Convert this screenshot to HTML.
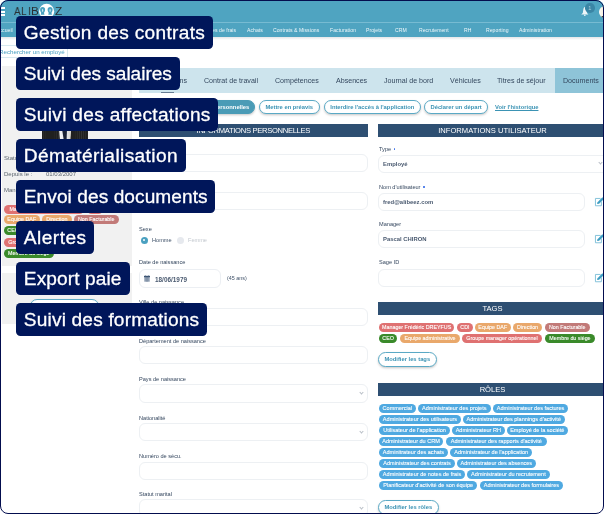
<!DOCTYPE html>
<html><head><meta charset="utf-8">
<style>
*{box-sizing:border-box;margin:0;padding:0}
html,body{width:604px;height:514px;overflow:hidden;background:#fff}
.a,.nav,.lt,.tab,.btn,.sh,.lb,.val,.tg,.rl,.co{will-change:transform}
body{position:relative;font-family:"Liberation Sans",Arial,sans-serif;color:#3d4f66}
.a{position:absolute;white-space:nowrap}
.lg{top:4.1px;font-size:11.7px;line-height:14px;color:#2a3034;transform:scaleX(0.86);transform-origin:0 0}
/* header */
#hdr{position:absolute;left:0;top:0;width:604px;height:37px;background:#4fa4c1}
#hdr .ln{position:absolute;left:0;top:22px;width:604px;height:1px;background:#77bbd2}
#shadow{position:absolute;left:0;top:37px;width:604px;height:3px;background:linear-gradient(#e4e6e8,#fff)}
.nav{position:absolute;top:26.9px;font-size:5.1px;color:#eef7fa;letter-spacing:0.05px;white-space:nowrap}
/* left panel */
.gp{position:absolute;background:#f1f1f1}
.lt{position:absolute;font-size:6px;color:#5d6670;white-space:nowrap}
/* tabs */
#tabs{position:absolute;left:138.7px;top:68px;width:470px;height:24.8px;background:#cde4ed}
.tab{position:absolute;top:76.6px;font-size:7.1px;color:#34485f;white-space:nowrap}
/* buttons */
.btn{position:absolute;top:100.2px;height:14.3px;border-radius:8px;border:1px solid #5aa9c5;background:#fff;color:#3b93b4;font-weight:700;font-size:5.8px;line-height:12.3px;text-align:center;white-space:nowrap;box-shadow:0 1.2px 2.2px rgba(0,0,0,.2)}
/* section headers */
.sh{position:absolute;height:12.5px;background:#2e4f72;color:#fff;font-size:7.6px;line-height:12.5px;padding-top:0.8px;text-align:center;white-space:nowrap}
/* labels */
.lb{position:absolute;font-size:5.6px;color:#34465e;white-space:nowrap}
.st{display:inline-block;width:1.5px;height:1.5px;border-radius:50%;background:#3b6fe8;margin-left:2.6px;vertical-align:1.2px}
.in{position:absolute;height:18.2px;border:1px solid #edf0f3;border-radius:6px;background:#fff}
.val{position:absolute;font-size:5.9px;font-weight:700;color:#4a5a70;white-space:nowrap}
.chev{position:absolute;width:3px;height:3px;border-right:0.6px solid #b8bec6;border-bottom:0.6px solid #b8bec6;transform:rotate(45deg)}
/* tags */
.tg{position:absolute;height:8.8px;border-radius:5px;color:#fff;font-size:5.35px;-webkit-text-stroke:0.1px #fff;line-height:8.8px;text-align:center;white-space:nowrap}
.r{background:#df7171}.o{background:#e9a86b}.b{background:#c27a78}.g{background:#3a8a2a}
.rl{position:absolute;height:8.8px;border-radius:5px;background:#4fa9e1;color:#fff;font-size:5.55px;-webkit-text-stroke:0.1px #fff;line-height:8.8px;text-align:center;white-space:nowrap}
/* callouts */
.co{position:absolute;left:16px;height:32.6px;background:#00165a;border-radius:4.5px;color:#fff;font-size:19.1px;line-height:32.6px;padding-left:7.8px;padding-top:0.9px;-webkit-text-stroke:0.3px #fff;white-space:nowrap}
#frame{position:absolute;left:0;top:0;width:604px;height:514px;border:1px solid #030d4e;border-radius:8px;box-shadow:0 0 0 12px #fff;pointer-events:none}
</style></head><body>

<!-- HEADER -->
<div id="hdr"><div class="ln"></div></div>
<div id="shadow"></div>
<!-- hamburger -->
<div class="a" style="left:1.1px;top:7.3px;width:3.9px;height:1.6px;background:#fff"></div>
<div class="a" style="left:1.1px;top:10.55px;width:3.9px;height:1.6px;background:#fff"></div>
<div class="a" style="left:1.1px;top:13.8px;width:3.9px;height:1.6px;background:#fff"></div>
<!-- logo -->
<div class="a lg" style="left:13.9px">A</div>
<div class="a lg" style="left:21.4px">L</div>
<div class="a lg" style="left:27.8px">I</div>
<div class="a lg" style="left:31.4px;transform:scaleX(0.95)">B</div>
<div class="a lg" style="left:54.7px;transform:scaleX(1.02)">Z</div>
<svg class="a" style="left:37px;top:2px" width="20" height="16" viewBox="37 2 20 16"><circle cx="46.6" cy="11.4" r="7.6" fill="#fff"/>
<path transform="translate(40.1 7)" d="M0,2.8 A2.5,2.8 0 0 1 5,2.8 C5,4.4 4.1,5.2 3.9,5.9 L4.4,7.7 L0.6,7.7 L1.1,5.9 C0.9,5.2 0,4.4 0,2.8 Z" fill="#4aa2c1"/><ellipse cx="42.6" cy="10.3" rx="0.6" ry="1.6" fill="#cfeaf3"/>
<path transform="translate(47.6 7)" d="M0,2.8 A2.5,2.8 0 0 1 5,2.8 C5,4.4 4.1,5.2 3.9,5.9 L4.4,7.7 L0.6,7.7 L1.1,5.9 C0.9,5.2 0,4.4 0,2.8 Z" fill="#4aa2c1"/><ellipse cx="50.1" cy="10.3" rx="0.6" ry="1.6" fill="#cfeaf3"/></svg>
<!-- bell + badge -->
<svg class="a" style="left:581px;top:7px" width="8" height="10" viewBox="0 0 8 10"><path d="M3.9 0 C3.2 0 2.5 1.2 2.2 3.2 L1.8 5.9 L0.2 7.5 L7.4 7.5 L6 5.9 L5.7 3.2 C5.4 1.2 4.6 0 3.9 0 Z" fill="#eef5f8"/><ellipse cx="3.8" cy="8.3" rx="0.9" ry="0.8" fill="#eef5f8"/></svg>
<div class="a" style="left:585px;top:3.1px;width:9.6px;height:9.6px;border-radius:50%;background:#3a85a5;color:#a8cfdd;font-size:5.6px;line-height:10px;text-align:center">1</div>
<div class="a" style="left:598.7px;top:5.6px;width:12px;height:12.2px;border-radius:50%;overflow:hidden;background:linear-gradient(90deg,#fdfcf8 0,#f6f1e2 30%,#efe4c6 45%)"><div style="position:absolute;left:2px;top:9.6px;width:4px;height:3px;border-radius:50%;background:#2e2a27"></div></div>

<!-- NAV -->
<div class="nav" style="left:-4.4px">Accueil</div>
<div class="nav" style="left:203.8px">Notes de frais</div>
<div class="nav" style="left:247px">Achats</div>
<div class="nav" style="left:273px">Contrats &amp; Missions</div>
<div class="nav" style="left:329.8px">Facturation</div>
<div class="nav" style="left:366px">Projets</div>
<div class="nav" style="left:395.3px">CRM</div>
<div class="nav" style="left:419px">Recrutement</div>
<div class="nav" style="left:463.5px">RH</div>
<div class="nav" style="left:486px">Reporting</div>
<div class="nav" style="left:519px">Administration</div>

<!-- SEARCH -->
<div class="a" style="left:-4px;top:45px;width:72px;height:12.6px;border:1px solid #d6e8ef;border-left:none"></div>
<div class="a" style="left:-1.5px;top:48.1px;font-size:6.2px;color:#4aa0c2">Rechercher un employé</div>

<!-- LEFT PANEL -->
<div class="gp" style="left:2.1px;top:66px;width:129.9px;height:199.9px"></div>
<div class="gp" style="left:2.1px;top:272.5px;width:129.9px;height:51.4px"></div>
<!-- photo -->
<div class="a" style="left:41.6px;top:98px;width:46.2px;height:44px;background:repeating-linear-gradient(90deg,#202020 0,#202020 1.3px,#343434 1.7px,#202020 2.1px)"></div>
<div class="a" style="left:58.9px;top:129px;width:12.2px;height:11px;background:linear-gradient(90deg,#f4f4f6,#e6e8ee 60%,#d8d4cc);clip-path:polygon(0 0,100% 0,94% 100%,8% 100%)"></div>
<div class="a" style="left:62.2px;top:129px;width:5px;height:11px;background:#1b2236;clip-path:polygon(0 0,100% 0,92% 100%,35% 100%)"></div>
<div class="lt" style="left:4px;top:154.5px">Statut :</div>
<div class="lt" style="left:4px;top:171.3px">Depuis le :</div>
<div class="lt" style="left:46.4px;top:171.3px">01/03/2007</div>
<div class="lt" style="left:4px;top:187.4px">Manager :</div>
<!-- left tags -->
<div class="tg r" style="left:4.3px;top:205.2px;width:80px">Manager Frédéric DREYFUS</div>
<div class="tg r" style="left:86.5px;top:205.2px;width:16px">CDI</div>
<div class="tg o" style="left:4.3px;top:215.2px;width:35.5px">Equipe DAF</div>
<div class="tg o" style="left:42.4px;top:215.2px;width:29.7px">Direction</div>
<div class="tg b" style="left:74.3px;top:215.2px;width:44.5px">Non Facturable</div>
<div class="tg g" style="left:4.3px;top:226.4px;width:18.2px">CEO</div>
<div class="tg o" style="left:25px;top:226.4px;width:60px">Equipe administrative</div>
<div class="tg r" style="left:4.3px;top:237.5px;width:80px">Groupe manager opérationnel</div>
<div class="tg g" style="left:4.3px;top:248.7px;width:49.5px">Membre du siège</div>
<div class="btn" style="left:30px;top:299px;width:68.5px">Modifier la photo</div>

<!-- TABS -->
<div id="tabs"></div>
<div class="a" style="left:554.8px;top:68px;width:52px;height:24.8px;background:#8ec4d8"></div>
<div class="a" style="left:160.7px;top:91.7px;width:12.8px;height:1.2px;background:#667c93"></div>
<div class="tab" style="left:148px">Informations</div>
<div class="tab" style="left:203.5px">Contrat de travail</div>
<div class="tab" style="left:274.7px">Compétences</div>
<div class="tab" style="left:335.5px">Absences</div>
<div class="tab" style="left:383.5px">Journal de bord</div>
<div class="tab" style="left:449.8px">Véhicules</div>
<div class="tab" style="left:497.2px">Titres de séjour</div>
<div class="tab" style="left:563px">Documents</div>

<!-- BUTTONS -->
<div class="btn" style="left:171.1px;width:84.1px;background:#4a9bb6;border-color:#4a9bb6;color:#fff">Informations personnelles</div>
<div class="btn" style="left:259.2px;width:60.5px">Mettre en préavis</div>
<div class="btn" style="left:324px;width:96.5px">Interdire l'accès à l'application</div>
<div class="btn" style="left:424.3px;width:64.2px">Déclarer un départ</div>
<div class="a" style="left:495px;top:104px;font-size:5.8px;font-weight:700;color:#3b93b4;text-decoration:underline">Voir l'historique</div>

<!-- SECTION HEADERS -->
<div class="sh" style="left:139px;top:123.5px;width:228.7px;letter-spacing:-0.3px">INFORMATIONS PERSONNELLES</div>
<div class="sh" style="left:378px;top:123.5px;width:229px">INFORMATIONS UTILISATEUR</div>


<!-- FORMS -->
<div class="lb" style="left:139.3px;top:145.0px">Nom</div>
<div class="in" style="left:138.5px;top:154.2px;width:229.5px"></div>
<div class="lb" style="left:139.3px;top:183.0px">Prénom</div>
<div class="in" style="left:138.5px;top:192.2px;width:229.5px"></div>
<div class="lb" style="left:139.3px;top:298.7px">Ville de naissance</div>
<div class="in" style="left:138.5px;top:307.9px;width:229.5px"></div>
<div class="lb" style="left:139.3px;top:337.5px">Département de naissance</div>
<div class="in" style="left:138.5px;top:346.3px;width:229.5px"></div>
<div class="lb" style="left:139.3px;top:376.1px">Pays de naissance</div>
<div class="in" style="left:138.5px;top:384.4px;width:229.5px"></div>
<div class="chev" style="left:360.3px;top:391.4px"></div>
<div class="lb" style="left:139.3px;top:414.7px">Nationalité</div>
<div class="in" style="left:138.5px;top:423.3px;width:229.5px"></div>
<div class="chev" style="left:360.3px;top:430.3px"></div>
<div class="lb" style="left:139.3px;top:452.8px">Numéro de sécu.</div>
<div class="in" style="left:138.5px;top:461.5px;width:229.5px"></div>
<div class="lb" style="left:139.3px;top:491.0px">Statut marital</div>
<div class="in" style="left:138.5px;top:499.3px;width:229.5px"></div>
<div class="chev" style="left:360.3px;top:506.3px"></div>
<div class="lb" style="left:139.3px;top:225.8px">Sexe</div>
<div class="a" style="left:140.7px;top:236.6px;width:7.2px;height:7.2px;border-radius:50%;background:#4aa0c0"></div>
<div class="a" style="left:143.1px;top:239px;width:2.4px;height:2.4px;border-radius:50%;background:#fff"></div>
<div class="a" style="left:151.7px;top:237.2px;font-size:5.6px;color:#3e5068">Homme</div>
<div class="a" style="left:176.8px;top:236.6px;width:7.2px;height:7.2px;border-radius:50%;background:#e6e9ee"></div>
<div class="a" style="left:187.7px;top:237.2px;font-size:5.6px;color:#c3c8cf">Femme</div>
<div class="lb" style="left:139.3px;top:259.4px">Date de naissance</div>
<div class="in" style="left:138.5px;top:269.2px;width:82px;height:18.7px;border-style:solid;border-color:#eceff3"></div>
<svg class="a" style="left:143.8px;top:275px" width="6" height="7" viewBox="0 0 6 7"><rect x="0.3" y="1.9" width="5.4" height="4.8" fill="#8e9db1"/><rect x="2.1" y="1.9" width="0.5" height="4.8" fill="#7b8ba1"/><rect x="3.5" y="1.9" width="0.5" height="4.8" fill="#7b8ba1"/><rect x="0" y="0.8" width="6" height="1.4" fill="#3b5372"/><rect x="1.3" y="0.2" width="0.6" height="1" fill="#6f829b"/><rect x="4.1" y="0.2" width="0.6" height="1" fill="#6f829b"/></svg>

<div class="val" style="left:155px;top:275.5px;font-size:6.4px">18/06/1979</div>
<div class="a" style="left:227px;top:275.2px;font-size:5.4px;color:#3e5068">(45 ans)</div>
<div class="lb" style="left:378.6px;top:145.9px">Type<span class="st"></span></div>
<div class="in" style="left:378.1px;top:154.5px;width:240px"></div>
<div class="val" style="left:382.6px;top:160.5px">Employé</div>
<div class="chev" style="left:598.5px;top:161.2px"></div>
<div class="lb" style="left:378.6px;top:184.0px">Nom d'utilisateur<span class="st"></span></div>
<div class="in" style="left:378.1px;top:192.6px;width:206.6px"></div>
<div class="val" style="left:382.6px;top:198.6px">fred@alibeez.com</div>
<svg class="a" style="left:595px;top:197.8px;overflow:visible" width="9" height="9" viewBox="0 0 9 9"><path d="M5.6 0.45 L0.45 0.45 L0.45 7.75 L6.35 7.75 L6.35 3.6" fill="none" stroke="#78bcd6" stroke-width="0.9"/><path d="M2.1 6.0 L2.5 4.2 L7.4 -0.7 L9.0 0.9 L4.1 5.7 Z" fill="#3e9ec3"/></svg>
<div class="lb" style="left:378.6px;top:220.8px">Manager</div>
<div class="in" style="left:378.1px;top:229.5px;width:206.6px"></div>
<div class="val" style="left:382.6px;top:235.5px">Pascal CHIRON</div>
<svg class="a" style="left:595px;top:234.7px;overflow:visible" width="9" height="9" viewBox="0 0 9 9"><path d="M5.6 0.45 L0.45 0.45 L0.45 7.75 L6.35 7.75 L6.35 3.6" fill="none" stroke="#78bcd6" stroke-width="0.9"/><path d="M2.1 6.0 L2.5 4.2 L7.4 -0.7 L9.0 0.9 L4.1 5.7 Z" fill="#3e9ec3"/></svg>
<div class="lb" style="left:378.6px;top:258.5px">Sage ID</div>
<div class="in" style="left:378.1px;top:268.8px;width:206.6px"></div>
<svg class="a" style="left:595px;top:274.0px;overflow:visible" width="9" height="9" viewBox="0 0 9 9"><path d="M5.6 0.45 L0.45 0.45 L0.45 7.75 L6.35 7.75 L6.35 3.6" fill="none" stroke="#78bcd6" stroke-width="0.9"/><path d="M2.1 6.0 L2.5 4.2 L7.4 -0.7 L9.0 0.9 L4.1 5.7 Z" fill="#3e9ec3"/></svg>
<div class="sh" style="left:378px;top:302.1px;width:229px">TAGS</div>
<div class="tg r" style="left:379.3px;top:322.8px;width:75.3px">Manager Frédéric DREYFUS</div>
<div class="tg r" style="left:456.9px;top:322.8px;width:15.9px">CDI</div>
<div class="tg o" style="left:475.3px;top:322.8px;width:35.5px">Equipe DAF</div>
<div class="tg o" style="left:513.3px;top:322.8px;width:29.1px">Direction</div>
<div class="tg b" style="left:545.1px;top:322.8px;width:44.5px">Non Facturable</div>
<div class="tg g" style="left:379.3px;top:334.1px;width:18.2px">CEO</div>
<div class="tg o" style="left:399.7px;top:334.1px;width:60.1px">Equipe administrative</div>
<div class="tg r" style="left:461.9px;top:334.1px;width:80.0px">Groupe manager opérationnel</div>
<div class="tg g" style="left:544.6px;top:334.1px;width:49.9px">Membre du siège</div>
<div class="btn" style="left:378.1px;top:352.3px;width:58.5px;height:15px;line-height:13px">Modifier les tags</div>
<div class="sh" style="left:378px;top:382.9px;width:229px">RÔLES</div>
<div class="rl" style="left:379px;top:403.6px;width:36.7px">Commercial</div>
<div class="rl" style="left:417.7px;top:403.6px;width:72.5px">Administrateur des projets</div>
<div class="rl" style="left:492.9px;top:403.6px;width:75.1px">Administrateur des factures</div>
<div class="rl" style="left:379px;top:414.7px;width:82.0px">Administrateur des utilisateurs</div>
<div class="rl" style="left:463px;top:414.7px;width:101.5px">Administrateur des plannings d'activité</div>
<div class="rl" style="left:379px;top:425.8px;width:71.1px">Utilisateur de l'application</div>
<div class="rl" style="left:452.3px;top:425.8px;width:52.6px">Administrateur RH</div>
<div class="rl" style="left:507.4px;top:425.8px;width:60.6px">Employé de la société</div>
<div class="rl" style="left:379px;top:437.0px;width:64.1px">Administrateur du CRM</div>
<div class="rl" style="left:445.5px;top:437.0px;width:100.5px">Administrateur des rapports d'activité</div>
<div class="rl" style="left:379px;top:448.1px;width:68.9px">Adminitrateur des achats</div>
<div class="rl" style="left:450.3px;top:448.1px;width:82.4px">Administrateur de l'application</div>
<div class="rl" style="left:379px;top:459.2px;width:76.0px">Administrateur des contrats</div>
<div class="rl" style="left:457px;top:459.2px;width:78.7px">Administrateur des absences</div>
<div class="rl" style="left:379px;top:470.3px;width:86.0px">Administrateur de notes de frais</div>
<div class="rl" style="left:467.4px;top:470.3px;width:82.8px">Administrateur du recrutement</div>
<div class="rl" style="left:379px;top:481.4px;width:98.3px">Planificateur d'activité de son équipe</div>
<div class="rl" style="left:479.7px;top:481.4px;width:82.8px">Administrateur des formulaires</div>
<div class="btn" style="left:378px;top:500.1px;width:60.6px;height:15px;line-height:13px">Modifier les rôles</div>
<div class="co" style="top:16.0px;width:196.9px;letter-spacing:0.31px">Gestion des contrats</div>
<div class="co" style="top:57.0px;width:163.7px;letter-spacing:-0.03px">Suivi des salaires</div>
<div class="co" style="top:98.0px;width:201.7px;letter-spacing:0.31px">Suivi des affectations</div>
<div class="co" style="top:139.0px;width:169.8px;letter-spacing:0.39px">Dématérialisation</div>
<div class="co" style="top:180.0px;width:198.9px;letter-spacing:0.07px">Envoi des documents</div>
<div class="co" style="top:221.0px;width:77.9px;letter-spacing:0.48px">Alertes</div>
<div class="co" style="top:262.0px;width:113.5px;letter-spacing:0.1px">Export paie</div>
<div class="co" style="top:303.0px;width:190.7px;letter-spacing:0.18px">Suivi des formations</div>
<div id="frame"></div>
</body></html>
